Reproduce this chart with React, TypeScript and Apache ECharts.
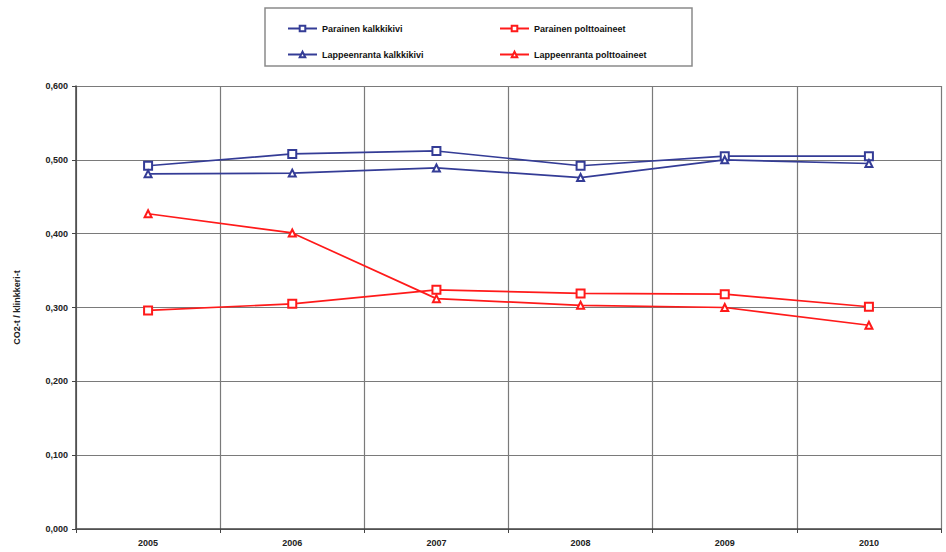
import React, { useEffect, useRef } from "react";
import * as echarts from "echarts";

const years = ["2005", "2006", "2007", "2008", "2009", "2010"];
const parainenKalkkikivi = [0.492, 0.508, 0.512, 0.492, 0.505, 0.505];
const parainenPolttoaineet = [0.296, 0.305, 0.324, 0.319, 0.318, 0.301];
const lappeenrantaKalkkikivi = [0.481, 0.482, 0.489, 0.476, 0.5, 0.495];
const lappeenrantaPolttoaineet = [0.427, 0.401, 0.312, 0.303, 0.3, 0.276];

const BLUE = "#343c96";
const RED = "#ff1a1a";
const FONT = "Liberation Sans, Arial, sans-serif";

export default function App() {
  const ref = useRef<HTMLDivElement>(null);

  useEffect(() => {
    if (!ref.current) return;
    const chart = echarts.init(ref.current, undefined, { renderer: "svg" });

    const mkSeries = (name: string, data: number[], color: string, symbol: string, size: number) => ({
      name,
      type: "line",
      data,
      symbol,
      symbolSize: size,
      showSymbol: true,
      lineStyle: { color, width: 1.7 },
      itemStyle: { color, borderColor: color, borderWidth: 1.2 },
      z: 3,
    });

    const legendBase = {
      orient: "horizontal",
      itemWidth: 29,
      itemHeight: 7,
      itemGap: 4,
      textStyle: { fontFamily: FONT, fontSize: 9, fontWeight: "bold", color: "#111" },
      selectedMode: false,
    };

    chart.setOption({
      animation: false,
      backgroundColor: "#ffffff",
      textStyle: { fontFamily: FONT },
      grid: { left: 76, right: 5, top: 86, bottom: 23, containLabel: false },
      graphic: [
        {
          type: "rect",
          shape: { x: 265, y: 8, width: 427, height: 58 },
          style: { fill: "#fff", stroke: "#8a8a8a", lineWidth: 1.5 },
          z: -1,
        },
      ],
      legend: [
        { ...legendBase, data: ["Parainen kalkkikivi"], left: 282, top: 19 },
        { ...legendBase, data: ["Parainen polttoaineet"], left: 494, top: 19 },
        { ...legendBase, data: ["Lappeenranta kalkkikivi"], left: 282, top: 45 },
        { ...legendBase, data: ["Lappeenranta polttoaineet"], left: 494, top: 45 },
      ],
      xAxis: {
        type: "category",
        data: years,
        boundaryGap: true,
        axisLine: { show: true, lineStyle: { color: "#444", width: 1.5 } },
        axisTick: { show: true, length: 4, lineStyle: { color: "#444" } },
        axisLabel: { fontFamily: FONT, fontSize: 9, fontWeight: "bold", color: "#222", margin: 9 },
        splitLine: { show: true, lineStyle: { color: "#7a7a7a", width: 1.2 } },
      },
      yAxis: {
        type: "value",
        min: 0,
        max: 0.6,
        interval: 0.1,
        name: "CO2-t / klinkkeri-t",
        nameLocation: "middle",
        nameGap: 55,
        nameRotate: 90,
        nameTextStyle: { fontFamily: FONT, fontSize: 9, fontWeight: "bold", color: "#222" },
        axisLine: { show: true, lineStyle: { color: "#444", width: 1.5 } },
        axisTick: { show: true, length: 4, lineStyle: { color: "#444" } },
        axisLabel: {
          fontFamily: FONT,
          fontSize: 9,
          fontWeight: "bold",
          color: "#222",
          margin: 8,
          formatter: (v: number) => v.toFixed(3).replace(".", ","),
        },
        splitLine: { show: true, lineStyle: { color: "#7a7a7a", width: 1.2 } },
      },
      series: [
        mkSeries("Parainen kalkkikivi", parainenKalkkikivi, BLUE, "emptyRect", 8),
        mkSeries("Parainen polttoaineet", parainenPolttoaineet, RED, "emptyRect", 8),
        mkSeries("Lappeenranta kalkkikivi", lappeenrantaKalkkikivi, BLUE, "emptyTriangle", 7),
        mkSeries("Lappeenranta polttoaineet", lappeenrantaPolttoaineet, RED, "emptyTriangle", 7),
      ],
    });

    return () => chart.dispose();
  }, []);

  return <div ref={ref} style={{ width: 946, height: 552, position: "absolute", left: 0, top: 0 }} />;
}
